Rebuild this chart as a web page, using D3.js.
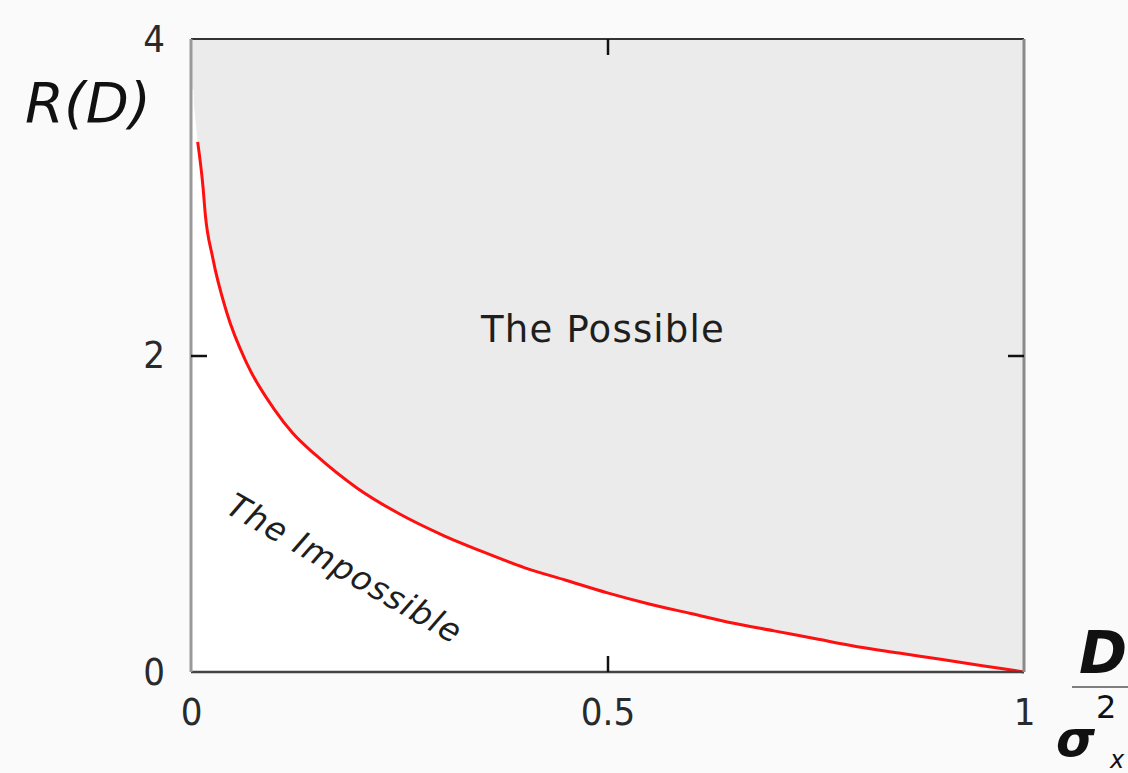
<!DOCTYPE html>
<html>
<head>
<meta charset="utf-8">
<script src="https://cdn.jsdelivr.net/npm/d3@7"></script>
<style>
  html, body { margin: 0; padding: 0; background: #fafafa; }
  svg { display: block; }
  .tick text { font-family: "DejaVu Sans Condensed", "DejaVu Sans", sans-serif; fill: #2a2a2a; }
</style>
</head>
<body>
<svg id="chart" width="1128" height="773"></svg>
<script>
// rate-distortion curve
const distortion = [0.002, 0.008, 0.0145, 0.017, 0.026, 0.043, 0.067, 0.1, 0.122, 0.15, 0.2, 0.25,
  0.3, 0.35, 0.4, 0.45, 0.5, 0.55, 0.6, 0.65, 0.7, 0.75, 0.8, 0.85, 0.9, 0.95, 1.0];
const rate = [3.68, 3.35, 3.06, 2.9, 2.62, 2.27, 1.95, 1.66, 1.51, 1.37, 1.16, 1.0,
  0.87, 0.76, 0.66, 0.58, 0.5, 0.43, 0.37, 0.31, 0.26, 0.21, 0.16, 0.12, 0.08, 0.04, 0.0];
const lineFrom = 0.008; // red line starts here, the white fill a bit before

const xTicks = [0, 0.5, 1];
const xTickLabels = ["0", "0.5", "1"];
const yTicks = [0, 2, 4];
const yTickLabels = ["0", "2", "4"];

const pts = distortion.map((d, i) => ({ D: d, R: rate[i] }));

const svg = d3.select("#chart");
const plotL = 191, plotR = 1024, plotT = 39, plotB = 672;

const x = d3.scaleLinear().domain([0, 1]).range([plotL, plotR]);
const y = d3.scaleLinear().domain([0, 4]).range([plotB, plotT]);

// the possible region (grey) and the impossible region (white) under the curve
svg.append("rect")
  .attr("x", plotL).attr("y", plotT)
  .attr("width", plotR - plotL).attr("height", plotB - plotT)
  .attr("fill", "#ebebeb");

const areaPath = d3.area()
  .x(d => x(d.D))
  .y0(y(0))
  .y1(d => y(d.R))
  .curve(d3.curveMonotoneX);

svg.append("path")
  .datum(pts)
  .attr("fill", "#ffffff")
  .attr("d", areaPath);
// thin white sliver between the axis and the start of the curve
svg.append("rect")
  .attr("x", x(0)).attr("y", y(rate[0]))
  .attr("width", x(distortion[0]) - x(0) + 1).attr("height", y(0) - y(rate[0]))
  .attr("fill", "#ffffff");

svg.append("path")
  .datum(pts.filter(d => d.D >= lineFrom))
  .attr("fill", "none")
  .attr("stroke", "#ff1010")
  .attr("stroke-width", 3)
  .attr("d", d3.line().x(d => x(d.D)).y(d => y(d.R)).curve(d3.curveMonotoneX));

// frame
svg.append("line").attr("x1", plotL).attr("x2", plotR).attr("y1", plotT).attr("y2", plotT)
  .attr("stroke", "#333").attr("stroke-width", 2);
svg.append("line").attr("x1", plotL).attr("x2", plotR).attr("y1", plotB).attr("y2", plotB)
  .attr("stroke", "#444").attr("stroke-width", 2.5);
svg.append("line").attr("x1", plotL).attr("x2", plotL).attr("y1", plotT).attr("y2", plotB)
  .attr("stroke", "#999").attr("stroke-width", 3);
svg.append("line").attr("x1", plotR).attr("x2", plotR).attr("y1", plotT).attr("y2", plotB)
  .attr("stroke", "#8a8a8a").attr("stroke-width", 3);

// axes with inward ticks
const xAxis = d3.axisBottom(x).tickValues(xTicks)
  .tickFormat((d, i) => xTickLabels[i]).tickSize(-16).tickPadding(26);
const gx = svg.append("g").attr("transform", `translate(0,${plotB})`).call(xAxis);

const yAxis = d3.axisLeft(y).tickValues(yTicks)
  .tickFormat((d, i) => yTickLabels[i]).tickSize(-16).tickPadding(26);
const gy = svg.append("g").attr("transform", `translate(${plotL},0)`).call(yAxis);

const gt = svg.append("g").attr("transform", `translate(0,${plotT})`)
  .call(d3.axisTop(x).tickValues([0.5]).tickFormat("").tickSize(-16));
const gr = svg.append("g").attr("transform", `translate(${plotR},0)`)
  .call(d3.axisRight(y).tickValues([2]).tickFormat("").tickSize(-16));

[gx, gy, gt, gr].forEach(g => {
  g.select(".domain").remove();
  g.selectAll(".tick line").attr("stroke", "#111").attr("stroke-width", 2.5);
  g.selectAll(".tick text").attr("font-size", 38);
});
// edge ticks coincide with the frame
gx.selectAll(".tick").filter(d => d !== 0.5).select("line").remove();
gy.selectAll(".tick").filter(d => d !== 2).select("line").remove();

// region labels
svg.append("text")
  .attr("x", 603).attr("y", 342)
  .attr("text-anchor", "middle")
  .attr("font-family", "DejaVu Sans, sans-serif")
  .attr("font-size", 37)
  .attr("letter-spacing", 1.2)
  .attr("fill", "#1e1e1e")
  .text("The Possible");

svg.append("text")
  .attr("transform", "translate(224,512) rotate(30)")
  .attr("font-family", "DejaVu Sans, sans-serif")
  .attr("font-style", "italic")
  .attr("font-size", 33)
  .attr("letter-spacing", 1.2)
  .attr("fill", "#1e1e1e")
  .text("The Impossible");

// axis titles
svg.append("text")
  .attr("x", 25).attr("y", 122)
  .attr("font-family", "DejaVu Sans, sans-serif")
  .attr("font-style", "italic")
  .attr("font-size", 56)
  .attr("fill", "#111")
  .text("R(D)");

const frac = svg.append("g").attr("font-family", "DejaVu Sans, sans-serif").attr("fill", "#111");
frac.append("text").attr("x", 1079).attr("y", 673)
  .attr("font-style", "italic").attr("font-weight", "bold").attr("font-size", 58).text("D");
frac.append("line").attr("x1", 1072).attr("x2", 1128).attr("y1", 687).attr("y2", 687)
  .attr("stroke", "#555").attr("stroke-width", 1.5);
frac.append("text").attr("x", 1056).attr("y", 756)
  .attr("font-style", "italic").attr("font-weight", "bold").attr("font-size", 50).text("σ");
frac.append("text").attr("x", 1096).attr("y", 718)
  .attr("font-size", 32).text("2");
frac.append("text").attr("x", 1110).attr("y", 768)
  .attr("font-style", "italic").attr("font-size", 24).text("x");
</script>
</body>
</html>
